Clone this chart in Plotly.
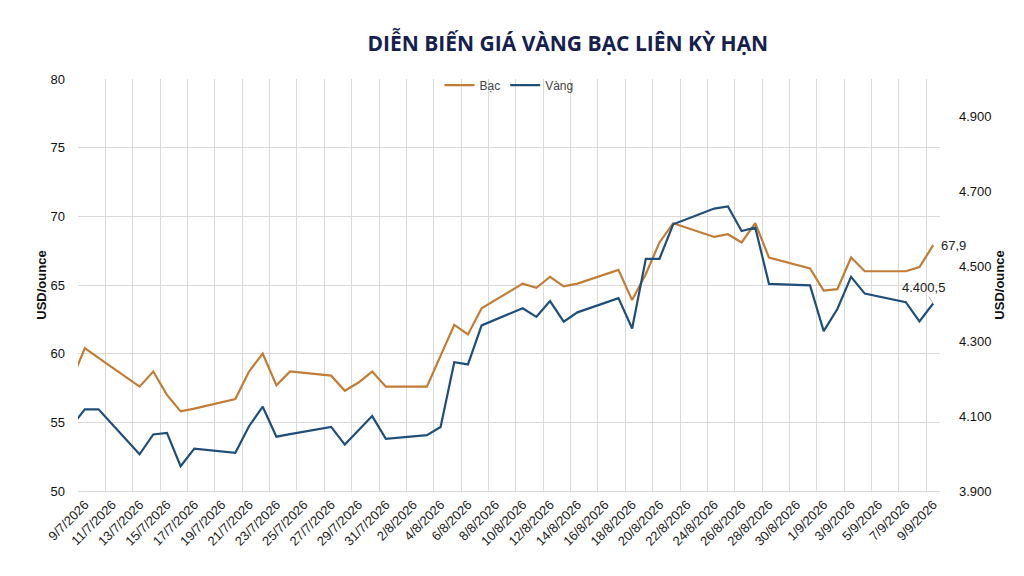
import pandas as pd
import plotly.graph_objects as go

# Trading days (8/7 is before the axis start, its line gets clipped at the edge)
dates = [
    "2026-07-08", "2026-07-09", "2026-07-10", "2026-07-13", "2026-07-14",
    "2026-07-15", "2026-07-16", "2026-07-17", "2026-07-20", "2026-07-21",
    "2026-07-22", "2026-07-23", "2026-07-24", "2026-07-27", "2026-07-28",
    "2026-07-29", "2026-07-30", "2026-07-31", "2026-08-03", "2026-08-04",
    "2026-08-05", "2026-08-06", "2026-08-07", "2026-08-10", "2026-08-11",
    "2026-08-12", "2026-08-13", "2026-08-14", "2026-08-17", "2026-08-18",
    "2026-08-19", "2026-08-20", "2026-08-21", "2026-08-24", "2026-08-25",
    "2026-08-26", "2026-08-27", "2026-08-28", "2026-08-31", "2026-09-01",
    "2026-09-02", "2026-09-03", "2026-09-04", "2026-09-07", "2026-09-08",
    "2026-09-09",
]

# Silver (Bạc), USD/ounce - left axis
silver = [
    58.0, 60.4, 59.7, 57.6, 58.7,
    57.0, 55.8, 56.0, 56.7, 58.7,
    60.0, 57.7, 58.7, 58.4, 57.3,
    57.9, 58.7, 57.6, 57.6, 59.9,
    62.1, 61.4, 63.3, 65.1, 64.8,
    65.6, 64.9, 65.1, 66.1, 63.9,
    65.8, 68.1, 69.5, 68.5, 68.7,
    68.1, 69.5, 67.0, 66.2, 64.6,
    64.7, 67.0, 66.0, 66.0, 66.3,
    67.9,
]

# Gold (Vàng), USD/ounce - right axis
gold = [
    4072, 4118, 4118, 3998, 4051,
    4055, 3966, 4013, 4002, 4073,
    4125, 4045, 4052, 4071, 4024,
    4062, 4100, 4039, 4049, 4071,
    4244, 4238, 4342, 4388, 4365,
    4407, 4352, 4377, 4415, 4334,
    4520, 4520, 4612, 4654, 4660,
    4594, 4603, 4453, 4449, 4327,
    4386, 4472, 4427, 4404, 4353,
    4400.5,
]

silver_color = "#C27C34"
gold_color = "#1F4E79"
text_color = "#222222"

# points sit in the middle of each day, grid lines on day boundaries
x = pd.to_datetime(dates) + pd.Timedelta(hours=12)

fig = go.Figure()

fig.add_trace(
    go.Scatter(
        x=x,
        y=silver,
        mode="lines",
        name="Bạc",
        line=dict(color=silver_color, width=2.2),
        yaxis="y",
    )
)

fig.add_trace(
    go.Scatter(
        x=x,
        y=gold,
        mode="lines",
        name="Vàng",
        line=dict(color=gold_color, width=2.2),
        yaxis="y2",
    )
)

# Last value labels
fig.add_annotation(
    x=x[-1],
    y=silver[-1],
    yref="y",
    text=f"{silver[-1]:.1f}".replace(".", ","),
    showarrow=False,
    xanchor="left",
    xshift=6,
    font=dict(size=13, color=text_color),
)
gold_label = f"{gold[-1]:,.1f}".replace(",", " ").replace(".", ",").replace(" ", ".")
fig.add_annotation(
    x=x[-1],
    y=gold[-1],
    yref="y2",
    text=gold_label,
    showarrow=True,
    arrowhead=0,
    arrowwidth=0.8,
    arrowcolor="#999999",
    ax=-10,
    ay=-16,
    font=dict(size=13, color=text_color),
)

# page body has an 8px margin, so the figure is a bit smaller than the window
fig.update_layout(
    width=1016,
    height=568,
    separators=",.",
    paper_bgcolor="white",
    plot_bgcolor="white",
    font=dict(family="Liberation Sans, Arial, sans-serif", color=text_color, size=12),
    margin=dict(l=70, r=84, t=71, b=85),
    title=dict(
        text="<b>DIỄN BIẾN GIÁ VÀNG BẠC LIÊN KỲ HẠN</b>",
        x=0.551,
        xanchor="center",
        y=0.937,
        yanchor="middle",
        font=dict(family="Open Sans, sans-serif", size=21, color="#15204F"),
    ),
    showlegend=True,
    legend=dict(
        orientation="h",
        x=0.5,
        xanchor="center",
        y=0.985,
        yanchor="middle",
        bgcolor="rgba(0,0,0,0)",
        font=dict(size=12, color="#444444"),
        itemwidth=30,
    ),
    xaxis=dict(
        type="date",
        range=["2026-07-09", "2026-09-10"],
        tick0="2026-07-09",
        dtick=2 * 86400000,
        tickformat="%-d/%-m/%Y",
        tickangle=-45,
        ticklabelshift=7,
        tickfont=dict(size=13, color=text_color),
        showgrid=True,
        gridcolor="#D9D9D9",
        gridwidth=1,
        showline=True,
        linecolor="#D9D9D9",
        zeroline=False,
        ticks="",
        automargin=False,
    ),
    yaxis=dict(
        range=[50, 80],
        dtick=5,
        tickfont=dict(size=13, color="#111111", family="Liberation Sans, Arial"),
        title=dict(
            text="<b>USD/ounce</b>",
            font=dict(size=13, color="#111111"),
            standoff=0,
        ),
        ticklabelstandoff=12,
        showgrid=True,
        gridcolor="#D9D9D9",
        zeroline=False,
        ticks="",
        automargin=False,
    ),
    yaxis2=dict(
        overlaying="y",
        side="right",
        range=[3900, 5000],
        tick0=3900,
        dtick=200,
        tickformat=",.0f",
        tickfont=dict(size=13, color="#111111"),
        title=dict(
            text="<b>USD/ounce</b>",
            font=dict(size=13, color="#111111"),
            standoff=2,
        ),
        ticklabelstandoff=18,
        showgrid=False,
        zeroline=False,
        ticks="",
        automargin=False,
    ),
)

fig.write_html("out.html")
